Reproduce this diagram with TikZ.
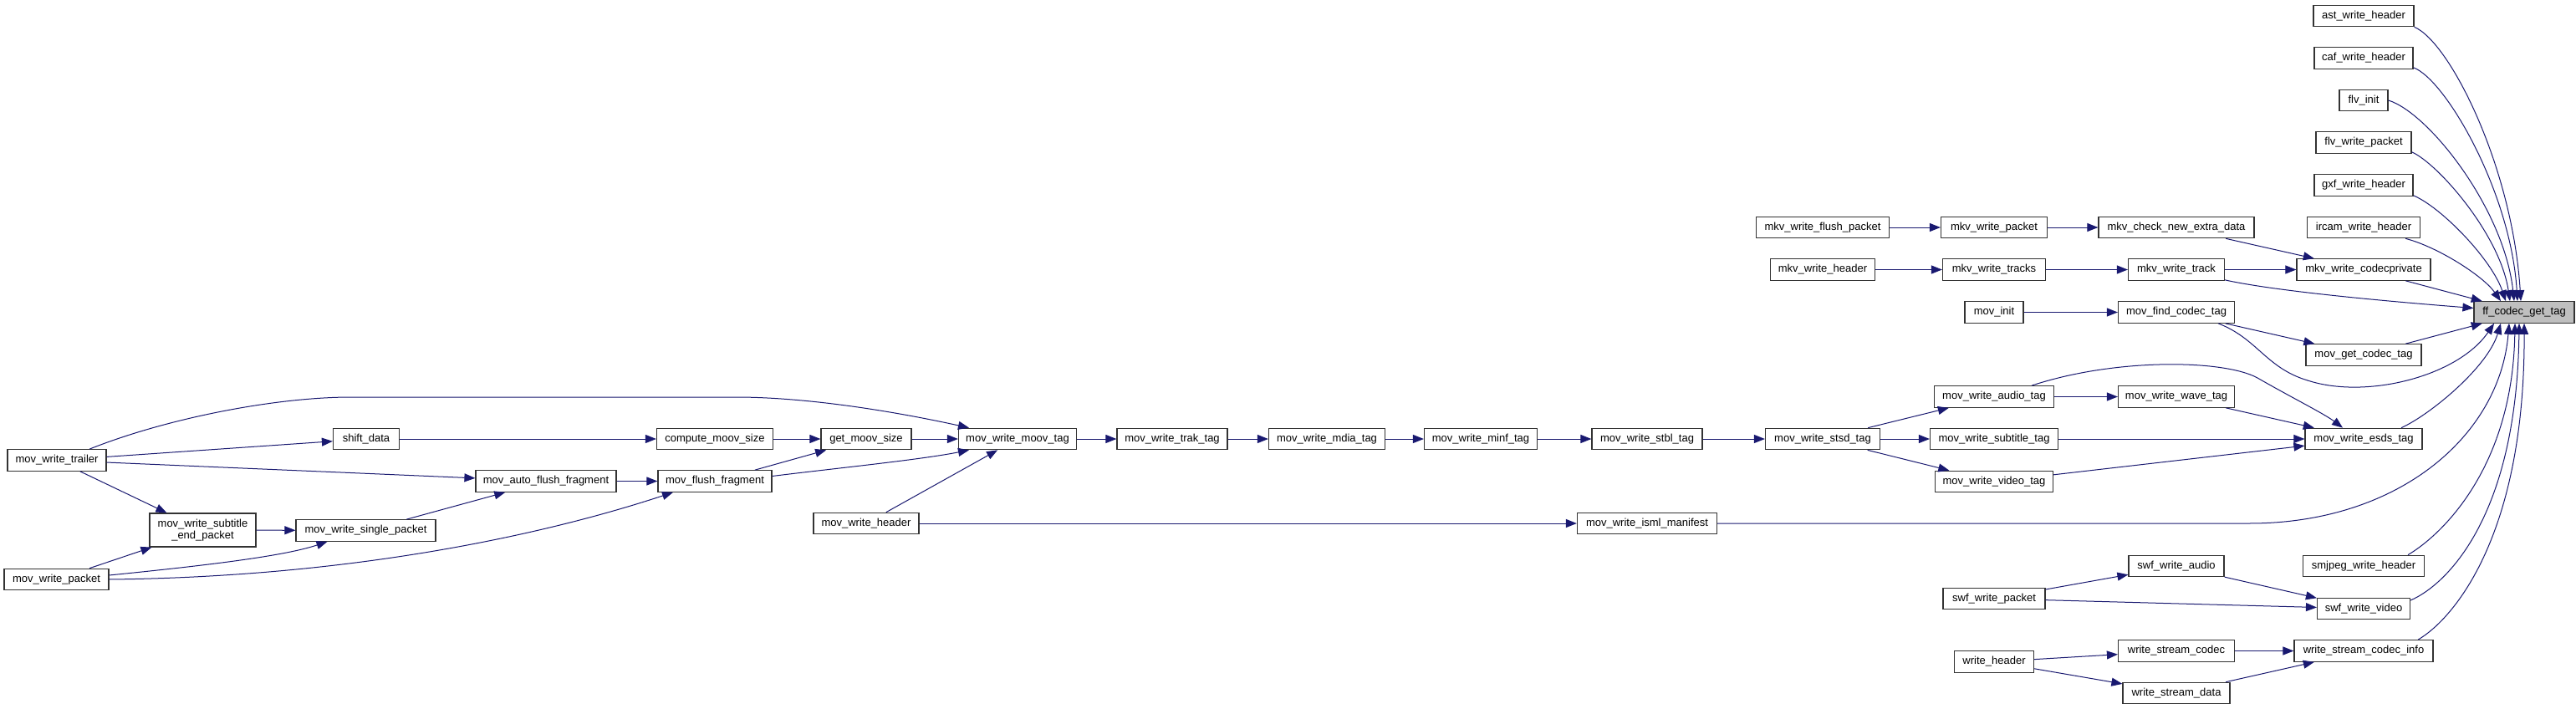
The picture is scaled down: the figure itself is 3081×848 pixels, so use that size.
\documentclass[tikz,border=0pt]{standalone}
\usepackage{fontspec}
\newfontfamily\dxfont{Liberation Sans}
\usetikzlibrary{arrows.meta}
\definecolor{edgeblue}{HTML}{191970}
\definecolor{rootgray}{HTML}{BFBFBF}
\tikzstyle{func} = [rectangle,draw=black!80,line width=1.2pt,fill=white,minimum height=25.5pt,inner sep=0pt,font=\dxfont\fontsize{13}{14}\selectfont]
\tikzstyle{call} = [draw=edgeblue,line width=1pt,-{Triangle[length=13pt,width=10pt]}]

\begin{document}
\begin{tikzpicture}[x=1pt,y=-1pt]
	\fill[white] (0,0) rectangle (3081,848);
	\useasboundingbox (0,0) rectangle (3081,848);
	% right part
	\node[func,minimum width=120pt,fill=rootgray] (ff) at (3019,373.5) {ff\_codec\_get\_tag};
	\node[func,minimum width=120pt] (ast) at (2827,19) {ast\_write\_header};
	\node[func,minimum width=118pt] (caf) at (2827,69.5) {caf\_write\_header};
	\node[func,minimum width=58pt] (flvi) at (2827,120) {flv\_init};
	\node[func,minimum width=114pt] (flvp) at (2827,170.5) {flv\_write\_packet};
	\node[func,minimum width=118pt] (gxf) at (2827,221.5) {gxf\_write\_header};
	\node[func,minimum width=135pt] (ircam) at (2827,272) {ircam\_write\_header};
	\node[func,minimum width=160pt] (mkvcp) at (2827,322.5) {mkv\_write\_codecprivate};
	\node[func,minimum width=138pt] (getct) at (2827,424.5) {mov\_get\_codec\_tag};
	\node[func,minimum width=140pt] (esds) at (2827,525) {mov\_write\_esds\_tag};
	\node[func,minimum width=145pt] (smjpeg) at (2827,677) {smjpeg\_write\_header};
	\node[func,minimum width=111pt] (swfv) at (2827,728) {swf\_write\_video};
	\node[func,minimum width=166pt] (wsci) at (2827,778.5) {write\_stream\_codec\_info};
	\node[func,minimum width=186pt] (mkvcheck) at (2603,272) {mkv\_check\_new\_extra\_data};
	\node[func,minimum width=115pt] (mkvtrk) at (2603,322.5) {mkv\_write\_track};
	\node[func,minimum width=139pt] (findct) at (2603,373.5) {mov\_find\_codec\_tag};
	\node[func,minimum width=139pt] (wave) at (2603,474.5) {mov\_write\_wave\_tag};
	\node[func,minimum width=114pt] (swfa) at (2603,677) {swf\_write\_audio};
	\node[func,minimum width=139pt] (wsc) at (2603,778.5) {write\_stream\_codec};
	\node[func,minimum width=128pt] (wsd) at (2603,829) {write\_stream\_data};
	\node[func,minimum width=127pt] (mkvpkt) at (2385,272) {mkv\_write\_packet};
	\node[func,minimum width=123pt] (mkvtrks) at (2385,322.5) {mkv\_write\_tracks};
	\node[func,minimum width=70pt] (movinit) at (2385,373.5) {mov\_init};
	\node[func,minimum width=143pt] (audio) at (2385,474.5) {mov\_write\_audio\_tag};
	\node[func,minimum width=153pt] (subt) at (2385,525) {mov\_write\_subtitle\_tag};
	\node[func,minimum width=141pt] (video) at (2385,576) {mov\_write\_video\_tag};
	\node[func,minimum width=122pt] (swfp) at (2385,716) {swf\_write\_packet};
	\node[func,minimum width=95pt] (wh) at (2385,791.5) {write\_header};
	\node[func,minimum width=159pt] (mkvflush) at (2180,272) {mkv\_write\_flush\_packet};
	\node[func,minimum width=125pt] (mkvhdr) at (2180,322.5) {mkv\_write\_header};
	\node[func,minimum width=137pt] (stsd) at (2180,525) {mov\_write\_stsd\_tag};
	% middle chain
	\node[func,minimum width=132pt] (stbl) at (1970,525) {mov\_write\_stbl\_tag};
	\node[func,minimum width=167pt] (isml) at (1970,626) {mov\_write\_isml\_manifest};
	\node[func,minimum width=135pt] (minf) at (1771,525) {mov\_write\_minf\_tag};
	\node[func,minimum width=139pt] (mdia) at (1587,525) {mov\_write\_mdia\_tag};
	\node[func,minimum width=132pt] (trak) at (1402,525) {mov\_write\_trak\_tag};
	\node[func,minimum width=141pt] (moov) at (1217,525) {mov\_write\_moov\_tag};
	\node[func,minimum width=108pt] (getsize) at (1036,525) {get\_moov\_size};
	\node[func,minimum width=126pt] (movhdr) at (1036,626) {mov\_write\_header};
	\node[func,minimum width=139pt] (compute) at (855,525) {compute\_moov\_size};
	\node[func,minimum width=136pt] (flush) at (855,575.5) {mov\_flush\_fragment};
	% left part
	\node[func,minimum width=168pt] (autoflush) at (653,575.5) {mov\_auto\_flush\_fragment};
	\node[func,minimum width=79pt] (shift) at (438,525) {shift\_data};
	\node[func,minimum width=167pt] (single) at (437.5,634.5) {mov\_write\_single\_packet};
	\node[func,minimum width=127pt,minimum height=40pt,align=center] (subend) at (242.5,634) {mov\_write\_subtitle\\\_end\_packet};
	\node[func,minimum width=118pt] (trailer) at (68,550.5) {mov\_write\_trailer};
	\node[func,minimum width=125pt] (packet) at (67.5,693) {mov\_write\_packet};
	% calls into ff_codec_get_tag
	\draw[call] (ast.south east) .. controls (2930,50) and (3005,200) .. ([xshift=-4pt]ff.north);
	\draw[call] ([yshift=2pt]caf.south east) .. controls (2925,95) and (3003,230) .. ([xshift=-8pt]ff.north);
	\draw[call] (flvi.east) .. controls (2905,135) and (2995,250) .. ([xshift=-12pt]ff.north);
	\draw[call] ([yshift=2pt]flvp.south east) .. controls (2915,195) and (2990,280) .. ([xshift=-17pt]ff.north);
	\draw[call] ([yshift=1pt]gxf.south east) .. controls (2920,248) and (2980,310) .. ([xshift=-22pt]ff.north);
	\draw[call] ([xshift=-18pt]ircam.south east) .. controls (2915,295) and (2970,330) .. ([xshift=-28pt]ff.north);
	\draw[call] (mkvcp) -- (ff);
	\draw[call] ([yshift=1pt]mkvtrk.south east) .. controls (2720,348) and (2850,360) .. ([yshift=5pt]ff.west);
	\draw[call] (getct) -- (ff);
	\draw[call] ([xshift=-20pt]findct.south east) .. controls (2700,405) and (2710,440) .. (2760,455) .. controls (2830,478) and (2940,450) .. ([xshift=-36pt]ff.south);
	\draw[call] ([xshift=45pt]esds.north) .. controls (2905,497) and (2975,440) .. ([xshift=-28pt]ff.south);
	\draw[call] (isml.east) -- (2690,626) .. controls (2870,626) and (2990,520) .. ([xshift=-18pt]ff.south);
	\draw[call] ([xshift=53pt]smjpeg.north) .. controls (2920,640) and (3005,560) .. ([xshift=-11pt]ff.south);
	\draw[call] ([yshift=10pt]swfv.east) .. controls (2925,700) and (3010,620) .. ([xshift=-6pt]ff.south);
	\draw[call] ([xshift=65pt]wsci.north) .. controls (2935,740) and (3020,640) .. (ff.south);
	% mkv
	\draw[call] (mkvflush) -- (mkvpkt);
	\draw[call] (mkvpkt) -- (mkvcheck);
	\draw[call] (mkvcheck) -- (mkvcp);
	\draw[call] (mkvhdr) -- (mkvtrks);
	\draw[call] (mkvtrks) -- (mkvtrk);
	\draw[call] (mkvtrk) -- (mkvcp);
	\draw[call] (movinit) -- (findct);
	\draw[call] (findct) -- (getct);
	% mov tags
	\draw[call] ([xshift=45pt]audio.north) .. controls (2530,428) and (2660,430) .. (2700,452) .. controls (2740,475) and (2780,495) .. ([xshift=-25pt]esds.north);
	\draw[call] (audio) -- (wave);
	\draw[call] (wave) -- (esds);
	\draw[call] (subt) -- (esds);
	\draw[call] (video) -- (esds);
	\draw[call] (stsd) -- (audio);
	\draw[call] (stsd) -- (subt);
	\draw[call] (stsd) -- (video);
	\draw[call] (stbl) -- (stsd);
	\draw[call] (minf) -- (stbl);
	\draw[call] (mdia) -- (minf);
	\draw[call] (trak) -- (mdia);
	\draw[call] (moov) -- (trak);
	\draw[call] (getsize) -- (moov);
	\draw[call] (compute) -- (getsize);
	\draw[call] (shift) -- (compute);
	% swf and streams
	\draw[call] (swfa) -- (swfv);
	\draw[call] (swfp) -- (swfa);
	\draw[call] (swfp) -- (swfv);
	\draw[call] (wsc) -- (wsci);
	\draw[call] (wsd) -- (wsci);
	\draw[call] (wh) -- (wsc);
	\draw[call] (wh) -- (wsd);
	% trailer and packet
	\draw[call] (trailer) -- (shift);
	\draw[call] ([xshift=39pt]trailer.north) .. controls (200,500) and (330,475) .. (420,475) -- (880,475) .. controls (960,475) and (1060,490) .. ([xshift=-58pt]moov.north);
	\draw[call] (trailer) -- (autoflush);
	\draw[call] (trailer) -- (subend);
	\draw[call] (subend) -- (single);
	\draw[call] (packet) -- (subend);
	\draw[call] ([yshift=5pt]packet.east) .. controls (250,676) and (340,665) .. ([xshift=-46pt]single.south);
	\draw[call] (packet.east) .. controls (420,690) and (650,640) .. ([xshift=-50pt]flush.south);
	\draw[call] (single) -- (autoflush);
	\draw[call] (autoflush) -- (flush);
	\draw[call] (flush) -- (getsize);
	\draw[call] ([yshift=6pt]flush.east) .. controls (1000,560) and (1100,550) .. ([xshift=-58pt]moov.south);
	\draw[call] (movhdr) -- (moov);
	\draw[call] (movhdr) -- (isml);
\end{tikzpicture}
\end{document}
